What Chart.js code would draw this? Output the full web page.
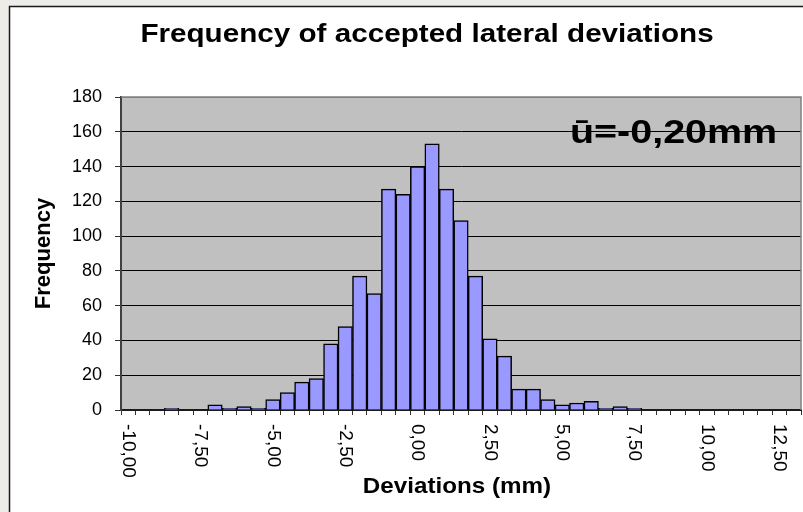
<!DOCTYPE html>
<html>
<head>
<meta charset="utf-8">
<script src="https://cdn.jsdelivr.net/npm/chart.js@4.4.0/dist/chart.umd.min.js"></script>
<style>
  html, body { margin: 0; padding: 0; background: #eeece9; }
  #wrap { width: 803px; height: 512px; }
</style>
</head>
<body>
<div id="wrap"><canvas id="chart" width="803" height="512"></canvas></div>
<script>
// bin labels (mm), one per 0.5 mm bin
var categories = [
    '-10,00', '-9,50', '-9,00', '-8,50', '-8,00', '-7,50', '-7,00', '-6,50', '-6,00', '-5,50',
    '-5,00', '-4,50', '-4,00', '-3,50', '-3,00', '-2,50', '-2,00', '-1,50', '-1,00', '-0,50',
    '0,00', '0,50', '1,00', '1,50', '2,00', '2,50', '3,00', '3,50', '4,00', '4,50',
    '5,00', '5,50', '6,00', '6,50', '7,00', '7,50', '8,00', '8,50', '9,00', '9,50',
    '10,00', '10,50', '11,00', '11,50', '12,00', '12,50', '13,00'
];
var frequencies = [
    0, 0, 0, 1, 0, 0, 3, 1, 2, 1,
    6, 10, 16, 18, 38, 48, 77, 67, 127, 124,
    140, 153, 127, 109, 77, 41, 31, 12, 12, 6,
    3, 4, 5, 1, 2, 1, 0, 0, 0, 0,
    0, 0, 0, 0, 0, 0, 0
];
var yMax = 180;
var yStep = 20;
var labelEvery = 5; // Excel shows every 5th bin label

var chartTitle = 'Frequency of accepted lateral deviations';
var meanText = 'ū=-0,20mm';
var xTitle = 'Deviations (mm)';
var yTitle = 'Frequency';

var FONT = "'Liberation Sans', Arial, sans-serif";

// Excel text comes out wider than Arial, so stretch it a bit
function drawWide(ctx, text, x, y, font, sx, align) {
    ctx.save();
    ctx.font = font;
    ctx.fillStyle = '#000';
    ctx.textBaseline = 'alphabetic';
    ctx.textAlign = align;
    ctx.translate(x, y);
    ctx.scale(sx, 1);
    ctx.fillText(text, 0, 0);
    ctx.restore();
}

var excelLook = {
    id: 'excelLook',
    beforeDraw: function(chart) {
        var ctx = chart.ctx, a = chart.chartArea;
        ctx.save();
        ctx.fillStyle = '#eeece9';
        ctx.fillRect(0, 0, chart.width, chart.height);
        // white chart frame
        ctx.fillStyle = '#ffffff';
        ctx.fillRect(9, 6, chart.width, chart.height);
        ctx.strokeStyle = '#1a1a1a';
        ctx.lineWidth = 1.5;
        ctx.beginPath();
        ctx.moveTo(9.5, chart.height);
        ctx.lineTo(9.5, 6.5);
        ctx.lineTo(chart.width, 6.5);
        ctx.stroke();
        // grey plot area
        ctx.fillStyle = '#c0c0c0';
        ctx.fillRect(a.left, a.top, a.right - a.left, a.bottom - a.top);
        ctx.restore();
    },
    afterDraw: function(chart) {
        var ctx = chart.ctx, a = chart.chartArea, xs = chart.scales.x;
        ctx.save();
        ctx.strokeStyle = '#808080';
        ctx.lineWidth = 1.5;
        ctx.beginPath();
        ctx.moveTo(a.left, a.top);
        ctx.lineTo(a.right, a.top);
        ctx.lineTo(a.right, a.bottom);
        ctx.stroke();

        // x labels, rotated to read top-down
        ctx.font = '19px ' + FONT;
        ctx.fillStyle = '#000';
        ctx.textAlign = 'left';
        ctx.textBaseline = 'middle';
        categories.forEach(function(c, i) {
            if (i % labelEvery !== 0) return;
            ctx.save();
            ctx.translate(xs.getPixelForValue(i), a.bottom + 14);
            ctx.rotate(Math.PI / 2);
            ctx.fillText(c, 0, 0);
            ctx.restore();
        });
        ctx.restore();

        drawWide(ctx, chartTitle, 427, 42, 'bold 26px ' + FONT, 1.14, 'center');
        drawWide(ctx, meanText, 570, 143, 'bold 34px ' + FONT, 1.16, 'left');
        drawWide(ctx, xTitle, 457, 493, 'bold 22px ' + FONT, 1.1, 'center');
    }
};

var ctx = document.getElementById('chart').getContext('2d');
var histChart = new Chart(ctx, {
    type: 'bar',
    data: {
        labels: categories,
        datasets: [{
            label: yTitle,
            data: frequencies,
            backgroundColor: '#9999ff',
            borderColor: '#000000',
            borderWidth: 1.5,
            barPercentage: 1,
            categoryPercentage: 1
        }]
    },
    options: {
        responsive: false,
        animation: false,
        devicePixelRatio: 1,
        layout: { padding: { left: 0, right: 2, top: 97, bottom: 0 } },
        plugins: {
            legend: { display: false },
            title: { display: false },
            tooltip: { enabled: false }
        },
        scales: {
            x: {
                ticks: { display: false },
                grid: {
                    offset: true,
                    drawOnChartArea: false,
                    drawTicks: true,
                    tickLength: 5,
                    tickColor: '#333333'
                },
                border: { color: '#1a1a1a', width: 2 },
                afterFit: function(scale) { scale.height = 102; }
            },
            y: {
                min: 0,
                max: yMax,
                ticks: {
                    stepSize: yStep,
                    color: '#000',
                    padding: 13,
                    font: { family: FONT, size: 18 }
                },
                grid: {
                    color: function(c) { return c.tick && c.tick.value === yMax ? '#808080' : '#000000'; },
                    lineWidth: 1,
                    tickLength: 6,
                    tickColor: '#333333'
                },
                border: { color: '#404040', width: 2 },
                title: {
                    display: true,
                    text: yTitle,
                    color: '#000',
                    font: { family: FONT, size: 22, weight: 'bold' },
                    padding: { top: 31, bottom: 0 }
                },
                afterFit: function(scale) { scale.width = 121; }
            }
        }
    },
    plugins: [excelLook]
});
</script>
</body>
</html>
